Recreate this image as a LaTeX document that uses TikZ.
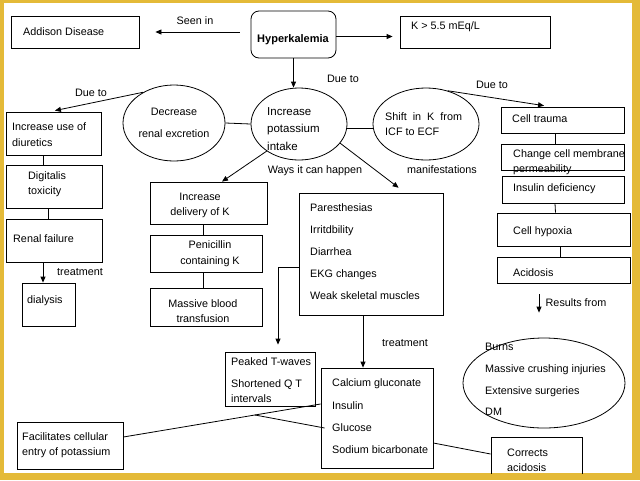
\documentclass[tikz,border=0pt]{standalone}
\usepackage{fontspec}
\setmainfont{Liberation Sans}
\usetikzlibrary{arrows.meta,shapes.geometric,calc}
\definecolor{gold}{RGB}{228,186,56}
\begin{document}
\begin{tikzpicture}[x=1pt,y=-1pt,
  bx/.style={draw, line width=0.8pt, inner sep=0pt, rectangle},
  el/.style={draw, line width=0.8pt, ellipse, inner sep=0pt},
  ln/.style={line width=0.8pt},
  ar/.style={line width=0.8pt, -{Triangle[length=6pt,width=5pt]}},
  txt/.style={inner sep=0pt, font=\fontsize{10.8}{12}\selectfont, text height=7.5pt, text depth=2pt, anchor=west},
  lab/.style={inner sep=0pt, font=\fontsize{10.8}{12}\selectfont, text height=7.5pt, text depth=2pt},
]
\useasboundingbox (0,0) rectangle (640,480);
\fill[gold] (0,0) rectangle (640,480);
\fill[white] (4,3) rectangle (632,473);
\begin{scope}
\clip (4,3) rectangle (632,473);
% boxes
\node[bx, minimum width=128pt, minimum height=32pt] (addison) at (75,32) {};
\node[bx, rounded corners=8pt, minimum width=85pt, minimum height=47pt] (hyper) at (293.5,34.5) {};
\node[bx, minimum width=150pt, minimum height=32pt] (kbox) at (475,32) {};
\node[bx, minimum width=95pt, minimum height=43pt] (incuse) at (53.5,133.5) {};
\node[bx, minimum width=96pt, minimum height=43pt] (digit) at (54,186.5) {};
\node[bx, minimum width=96pt, minimum height=43pt] (renal) at (54,240.5) {};
\node[bx, minimum width=53pt, minimum height=43pt] (dialysis) at (48.5,304.5) {};
\node[bx, minimum width=117pt, minimum height=42pt] (incdel) at (208.5,203) {};
\node[bx, minimum width=112pt, minimum height=37pt] (penic) at (206,253.5) {};
\node[bx, minimum width=112pt, minimum height=38pt] (massive) at (206,307) {};
\node[bx, minimum width=144pt, minimum height=122pt] (manif) at (371,254) {};
\node[bx, minimum width=90pt, minimum height=54pt] (peaked) at (270,379) {};
\node[bx, minimum width=112pt, minimum height=100pt] (treat) at (377,418) {};
\node[bx, minimum width=106pt, minimum height=47pt] (facil) at (70,445.5) {};
\node[bx, minimum width=91pt, minimum height=48pt] (corrects) at (536.5,461) {};
\node[bx, minimum width=123pt, minimum height=26pt] (celltrauma) at (562.5,120) {};
\node[bx, minimum width=123pt, minimum height=26pt] (change) at (562.5,157) {};
\node[bx, minimum width=122pt, minimum height=27pt] (insulin) at (563,189.5) {};
\node[bx, minimum width=133pt, minimum height=33pt] (hypoxia) at (563.5,229.5) {};
\node[bx, minimum width=133pt, minimum height=26pt] (acidosis) at (563.5,270) {};
% ellipses
\node[el, minimum width=102pt, minimum height=76pt] (decr) at (174,123) {};
\node[el, minimum width=96pt, minimum height=72pt] (incr) at (299,124) {};
\node[el, minimum width=106pt, minimum height=72pt] (shift) at (426,124) {};
\node[el, minimum width=162pt, minimum height=90pt] (burns) at (544,383) {};
% connectors
\draw[ar, shorten <=11pt, shorten >=16pt] (hyper.west |- addison.east) -- (addison.east);
\draw[ar, shorten >=7pt] ([yshift=-2pt]hyper.east) -- ([yshift=-2pt]kbox.west |- hyper.east);
\draw[ar] (hyper.south) -- (hyper.south |- incr.north);
\draw[ln] (decr.east) -- (incr.west);
\draw[ln] ([yshift=-4pt]incr.east) -- ([yshift=-4pt]shift.west);
\draw[ar, shorten >=5pt] (decr.135) -- ([xshift=-3.5pt]incuse.north);
\draw[ar, shorten >=6pt] (shift.57) -- ([xshift=-12.5pt]celltrauma.north);
\draw[ln] ([xshift=-7.5pt]celltrauma.south) -- ([xshift=-7.5pt]change.north);
\draw[ln] ([xshift=-8pt]insulin.south) -- ([xshift=-8pt]hypoxia.north);
\draw[ln] ([xshift=-3.5pt]hypoxia.south) -- ([xshift=-3.5pt]acidosis.north);
\draw[ar, shorten <=11pt, shorten >=25pt] ([xshift=-24.5pt]acidosis.south) -- ([xshift=-5pt]burns.north);
\draw[ln] ([xshift=-10.5pt]incuse.south) -- ([xshift=-11pt]digit.north);
\draw[ln] ([xshift=-6pt]digit.south) -- ([xshift=-6pt]renal.north);
\draw[ar] ([xshift=-11pt]renal.south) -- ([xshift=-5.5pt]dialysis.north);
\draw[ar] (incr.220) -- ([xshift=13.5pt]incdel.north);
\draw[ln] ([xshift=-5.5pt]incdel.south) -- ([xshift=-3pt]penic.north);
\draw[ln] ([xshift=-3pt]penic.south) -- ([xshift=-3pt]massive.north);
\draw[ar, shorten >=8pt] (incr.-25) -- ([xshift=34pt]manif.north);
\draw[ar, shorten >=7pt] ([yshift=-13pt]manif.west) -| ([xshift=8pt]peaked.north);
\draw[ar] ([xshift=-8pt]manif.south) -- ([xshift=-14pt]treat.north);
\coordinate (fa) at ([yshift=8.5pt]facil.east);
\coordinate (ins) at ([yshift=14pt]treat.west);
\draw[ln] (fa) -- (ins);
\draw[ln] ($(fa)!0.667!(ins)$) -- ([xshift=4pt,yshift=-10pt]treat.west);
\draw[ln] ([yshift=-25pt]treat.east) -- ([yshift=7pt]corrects.west);
% texts
\node[txt] (t1) at (23,33) {Addison Disease};
\node[lab, font=\bfseries\fontsize{11}{12}\selectfont] (t2) at (293,40) {Hyperkalemia};
\node[txt] (t3) at (411,27) {K > 5.5 mEq/L};
\node[txt, font=\fontsize{11.5}{12}\selectfont] (t4) at (267,113) {Increase};
\node[txt, font=\fontsize{11.5}{12}\selectfont] (t5) at (267,130) {potassium};
\node[txt, font=\fontsize{11.5}{12}\selectfont] (t6) at (267,148) {intake};
\node[lab] (t7) at (174,113) {Decrease};
\node[lab] (t8) at (174,135) {renal excretion};
\node[txt] (t9) at (385,118) {Shift~ in~ K~ from};
\node[txt] (t10) at (385,133) {ICF to ECF};
\node[txt] (t11) at (12,128) {Increase use of};
\node[txt] (t12) at (12,144) {diuretics};
\node[txt] (t13) at (28,177) {Digitalis};
\node[txt] (t14) at (28,192) {toxicity};
\node[txt] (t15) at (13,240) {Renal failure};
\node[txt] (t16) at (27,301) {dialysis};
\node[lab] (t17) at (200,198) {Increase};
\node[lab] (t18) at (200,213) {delivery of K};
\node[lab] (t19) at (210,246) {Penicillin};
\node[lab] (t20) at (210,262) {containing K};
\node[lab] (t21) at (203,305) {Massive blood};
\node[lab] (t22) at (203,320) {transfusion};
\node[txt] (t23) at (310,209) {Paresthesias};
\node[txt] (t24) at (310,231) {Irritdbility};
\node[txt] (t25) at (310,253) {Diarrhea};
\node[txt] (t26) at (310,275) {EKG changes};
\node[txt] (t27) at (310,297) {Weak skeletal muscles};
\node[txt] (t28) at (231,363) {Peaked T-waves};
\node[txt] (t29) at (231,385) {Shortened Q T};
\node[txt] (t30) at (231,400) {intervals};
\node[txt] (t31) at (332,384) {Calcium gluconate};
\node[txt] (t32) at (332,407) {Insulin};
\node[txt] (t33) at (332,429) {Glucose};
\node[txt] (t34) at (332,451) {Sodium bicarbonate};
\node[txt] (t35) at (22,438) {Facilitates cellular};
\node[txt] (t36) at (22,453) {entry of potassium};
\node[txt] (t37) at (507,454) {Corrects};
\node[txt] (t38) at (507,469) {acidosis};
\node[txt] (t39) at (512,120) {Cell trauma};
\node[txt] (t40) at (513,155) {Change cell membrane};
\node[txt] (t41) at (513,170) {permeability};
\node[txt] (t42) at (513,189) {Insulin deficiency};
\node[txt] (t43) at (513,232) {Cell hypoxia};
\node[txt] (t44) at (513,274) {Acidosis};
\node[txt] (t45) at (485,348) {Burns};
\node[txt] (t46) at (485,370) {Massive crushing injuries};
\node[txt] (t47) at (485,392) {Extensive surgeries};
\node[txt] (t48) at (485,413) {DM};
% connector labels
\node[lab] (l1) at (195,22) {Seen in};
\node[lab] (l2) at (343,80) {Due to};
\node[lab] (l3) at (91,94) {Due to};
\node[lab] (l4) at (492,86) {Due to};
\node[lab] (l5) at (80,273) {treatment};
\node[lab] (l6) at (315,171) {Ways it can happen};
\node[lab] (l7) at (442,171) {manifestations};
\node[lab] (l8) at (576,304) {Results from};
\node[lab] (l9) at (405,344) {treatment};
\end{scope}
\end{tikzpicture}
\end{document}
